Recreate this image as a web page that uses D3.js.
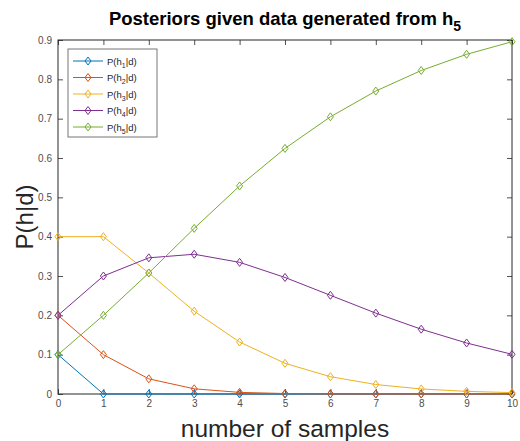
<!DOCTYPE html>
<html>
<head>
<meta charset="utf-8">
<script src="https://cdn.jsdelivr.net/npm/d3@7"></script>
<style>
  body { margin: 0; background: #fff; }
  svg { display: block; font-family: "Liberation Sans", Arial, sans-serif; }
</style>
</head>
<body>
<div id="chart"></div>
<script>
// number of samples (x axis)
var samples = [0, 1, 2, 3, 4, 5, 6, 7, 8, 9, 10];

// posterior values
var h1 = [0.1, 0, 0, 0, 0, 0, 0, 0, 0, 0, 0];
var h2 = [0.2, 0.1, 0.0385, 0.0132, 0.0041, 0.0012, 0.0003, 0.0001, 0.0, 0.0, 0.0];
var h3 = [0.4, 0.4, 0.3077, 0.2105, 0.1322, 0.078, 0.044, 0.0241, 0.0128, 0.0067, 0.0035];
var h4 = [0.2, 0.3, 0.3462, 0.3553, 0.3347, 0.2963, 0.2509, 0.2056, 0.1647, 0.1297, 0.1009];
var h5 = [0.1, 0.2, 0.3077, 0.4211, 0.5289, 0.6244, 0.7047, 0.7702, 0.8224, 0.8636, 0.8956];

var seriesNames = ["1", "2", "3", "4", "5"];
var seriesValues = [h1, h2, h3, h4, h5];
var colors = ["#0072BD", "#D95319", "#EDB120", "#7E2F8E", "#77AC30"];

var xTicks = [0, 1, 2, 3, 4, 5, 6, 7, 8, 9, 10];
var yTicks = [0, 0.1, 0.2, 0.3, 0.4, 0.5, 0.6, 0.7, 0.8, 0.9];

var W = 520, H = 441;
var margin = {top: 40, right: 8, bottom: 47, left: 58};
var width = W - margin.left - margin.right;
var height = H - margin.top - margin.bottom;

var svg = d3.select("#chart").append("svg")
    .attr("width", W)
    .attr("height", H);

var g = svg.append("g")
    .attr("transform", "translate(" + margin.left + "," + margin.top + ")");

var x = d3.scaleLinear().domain([0, 10]).range([0, width]);
var y = d3.scaleLinear().domain([0, 0.9]).range([height, 0]);

var axisColor = "#262626";

// axes, MATLAB style: ticks inside, box on
function styleAxis(sel) {
  sel.select(".domain").remove();
  sel.selectAll(".tick line").attr("stroke", axisColor).attr("stroke-width", 0.8);
  sel.selectAll(".tick text")
    .attr("fill", "#4d4d4d")
    .style("font-size", "10px");
}

g.append("g")
  .attr("transform", "translate(0," + height + ")")
  .call(d3.axisBottom(x).tickValues(xTicks).tickSize(-5).tickPadding(6).tickFormat(d3.format("d")))
  .call(styleAxis);

g.append("g")
  .call(d3.axisTop(x).tickValues(xTicks).tickSize(-5).tickFormat(""))
  .call(styleAxis);

g.append("g")
  .call(d3.axisLeft(y).tickValues(yTicks).tickSize(-5).tickPadding(6).tickFormat(function(d) { return d === 0 ? "0" : d3.format(".1f")(d); }))
  .call(styleAxis);

g.append("g")
  .attr("transform", "translate(" + width + ",0)")
  .call(d3.axisRight(y).tickValues(yTicks).tickSize(-5).tickFormat(""))
  .call(styleAxis);

g.append("rect")
  .attr("width", width)
  .attr("height", height)
  .attr("fill", "none")
  .attr("stroke", axisColor)
  .attr("stroke-width", 1);

// lines and markers
var line = d3.line()
  .x(function(d, i) { return x(samples[i]); })
  .y(function(d) { return y(d); });

var diamond = "M0,-4L3,0L0,4L-3,0Z";

seriesValues.forEach(function(vals, k) {
  g.append("path")
    .datum(vals)
    .attr("fill", "none")
    .attr("stroke", colors[k])
    .attr("stroke-width", 1)
    .attr("d", line);

  g.selectAll(".m" + k)
    .data(vals)
    .enter()
    .append("path")
      .attr("class", "m" + k)
      .attr("d", diamond)
      .attr("transform", function(d, i) { return "translate(" + x(samples[i]) + "," + y(d) + ")"; })
      .attr("fill", "none")
      .attr("stroke", colors[k])
      .attr("stroke-width", 1);
});

// legend
var legend = g.append("g").attr("transform", "translate(10,9)");
legend.append("rect")
  .attr("width", 89)
  .attr("height", 88)
  .attr("fill", "#fff")
  .attr("stroke", "#777")
  .attr("stroke-width", 1);

seriesNames.forEach(function(name, k) {
  var ly = 12 + k * 16.5;
  var row = legend.append("g").attr("transform", "translate(0," + ly + ")");
  row.append("line")
    .attr("x1", 5).attr("x2", 35)
    .attr("stroke", colors[k]).attr("stroke-width", 1);
  row.append("path")
    .attr("d", diamond)
    .attr("transform", "translate(20,0)")
    .attr("fill", "none")
    .attr("stroke", colors[k]);
  var t = row.append("text")
    .attr("x", 39)
    .attr("y", 3.5)
    .attr("fill", axisColor)
    .style("font-size", "9.5px");
  t.append("tspan").text("P(h");
  t.append("tspan").attr("dy", 3).style("font-size", "7px").text(name);
  t.append("tspan").attr("dy", -3).text("|d)");
});

// title
var title = svg.append("text")
  .attr("x", margin.left + width / 2)
  .attr("y", 25)
  .attr("text-anchor", "middle")
  .attr("fill", "#000")
  .style("font-size", "18.5px")
  .style("font-weight", "bold");
title.append("tspan").text("Posteriors given data generated from h");
title.append("tspan").attr("dy", 6).style("font-size", "14px").text("5");

// axis labels
svg.append("text")
  .attr("x", margin.left + width / 2)
  .attr("y", 437)
  .attr("text-anchor", "middle")
  .attr("fill", axisColor)
  .style("font-size", "24.5px")
  .text("number of samples");

svg.append("text")
  .attr("transform", "translate(33," + (margin.top + height / 2) + ") rotate(-90)")
  .attr("text-anchor", "middle")
  .attr("fill", axisColor)
  .style("font-size", "24px")
  .text("P(h|d)");
</script>
</body>
</html>
